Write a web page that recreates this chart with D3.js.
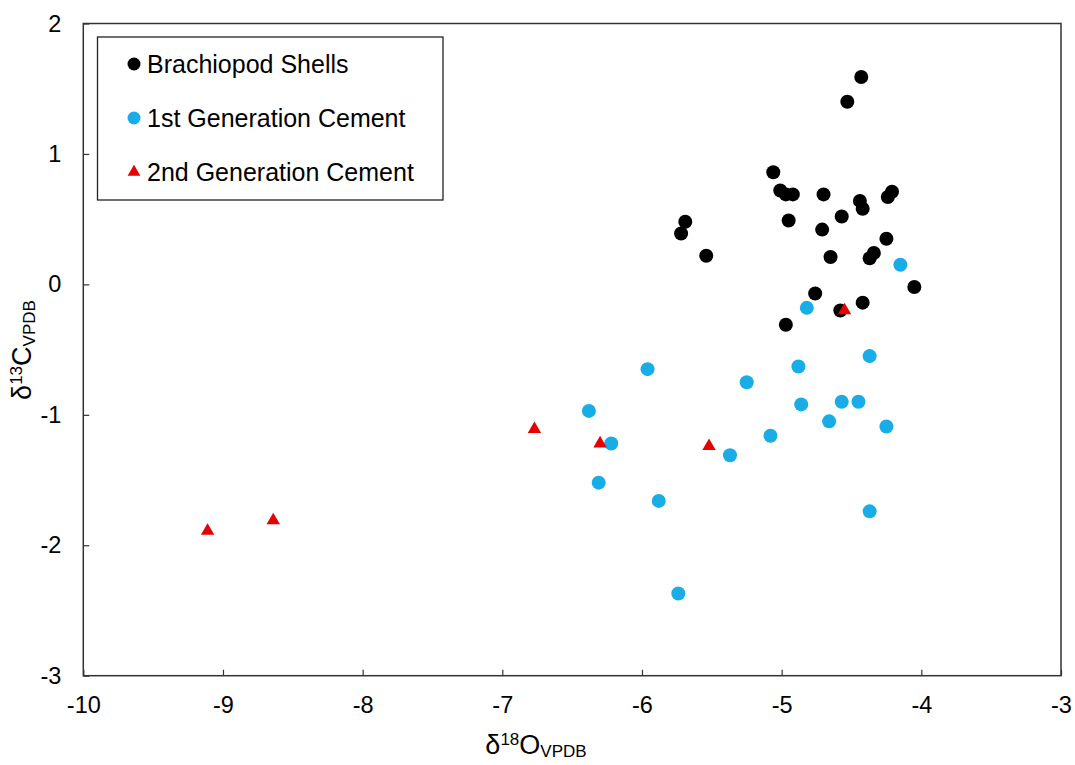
<!DOCTYPE html>
<html>
<head>
<meta charset="utf-8">
<script src="https://cdn.jsdelivr.net/npm/d3@7"></script>
<style>
  body { margin: 0; background: #fff; }
  svg text { font-family: "Liberation Sans", Arial, sans-serif; fill: #000; }
</style>
</head>
<body>
<div id="chart"></div>
<script>
// Brachiopod shells: [d18O, d13C]
const brachiopodShells = [
  [-4.43, 1.59], [-4.53, 1.40], [-5.06, 0.86], [-5.01, 0.72], [-4.97, 0.69],
  [-4.92, 0.69], [-4.70, 0.69], [-4.44, 0.64], [-4.42, 0.58], [-4.21, 0.71],
  [-4.24, 0.67], [-5.69, 0.48], [-5.72, 0.39], [-4.95, 0.49], [-4.57, 0.52],
  [-4.71, 0.42], [-4.25, 0.35], [-5.54, 0.22], [-4.65, 0.21], [-4.37, 0.20],
  [-4.34, 0.24], [-4.05, -0.02], [-4.76, -0.07], [-4.42, -0.14], [-4.58, -0.20],
  [-4.97, -0.31]
];

// 1st generation cement
const firstGenCement = [
  [-4.15, 0.15], [-4.82, -0.18], [-5.96, -0.65], [-4.88, -0.63], [-4.37, -0.55],
  [-5.25, -0.75], [-6.38, -0.97], [-4.86, -0.92], [-4.57, -0.90], [-4.45, -0.90],
  [-4.66, -1.05], [-4.25, -1.09], [-5.08, -1.16], [-6.22, -1.22], [-5.37, -1.31],
  [-6.31, -1.52], [-5.88, -1.66], [-4.37, -1.74], [-5.74, -2.37]
];

// 2nd generation cement
const secondGenCement = [
  [-9.11, -1.89], [-8.64, -1.81], [-6.77, -1.11], [-6.30, -1.22],
  [-5.52, -1.24], [-4.55, -0.20]
];

const xTicks = [-10, -9, -8, -7, -6, -5, -4, -3];
const yTicks = [2, 1, 0, -1, -2, -3];

const seriesNames = ["Brachiopod Shells", "1st Generation Cement", "2nd Generation Cement"];
const seriesColors = ["#000000", "#19ADE8", "#E60000"];

const w = 1075;
const h = 765;
const plotLeft = 83.3, plotRight = 1061, plotTop = 23.5, plotBottom = 675.7;

const svg = d3.select("#chart")
  .append("svg")
  .attr("width", w)
  .attr("height", h);

const xScale = d3.scaleLinear().domain([-10, -3]).range([plotLeft, plotRight]);
const yScale = d3.scaleLinear().domain([-3, 2]).range([plotBottom, plotTop]);

// axes (ticks point inward)
const xAxis = d3.axisBottom(xScale)
  .tickValues(xTicks)
  .tickFormat(d => d)
  .tickSizeInner(-6)
  .tickSizeOuter(0)
  .tickPadding(21);

const yAxis = d3.axisLeft(yScale)
  .tickValues(yTicks)
  .tickFormat(d => d)
  .tickSizeInner(-6)
  .tickSizeOuter(0)
  .tickPadding(22);

const gx = svg.append("g")
  .attr("transform", `translate(0, ${plotBottom})`)
  .call(xAxis);

const gy = svg.append("g")
  .attr("transform", `translate(${plotLeft}, 0)`)
  .call(yAxis);

[gx, gy].forEach(g => {
  g.select(".domain").remove();
  g.selectAll("line").attr("stroke", "#333").attr("stroke-width", 1.2);
  g.selectAll("text").style("font-size", "23.5px").attr("fill", "#000");
});

// plot frame
svg.append("rect")
  .attr("x", plotLeft)
  .attr("y", plotTop)
  .attr("width", plotRight - plotLeft)
  .attr("height", plotBottom - plotTop)
  .attr("fill", "none")
  .attr("stroke", "#333")
  .attr("stroke-width", 1.5);

// points
svg.append("g")
  .selectAll("circle")
  .data(brachiopodShells)
  .enter()
  .append("circle")
  .attr("cx", d => xScale(d[0]))
  .attr("cy", d => yScale(d[1]))
  .attr("r", 7)
  .attr("fill", seriesColors[0]);

svg.append("g")
  .selectAll("circle")
  .data(firstGenCement)
  .enter()
  .append("circle")
  .attr("cx", d => xScale(d[0]))
  .attr("cy", d => yScale(d[1]))
  .attr("r", 7)
  .attr("fill", seriesColors[1]);

const tri = d3.symbol().type(d3.symbolTriangle).size(78);

svg.append("g")
  .selectAll("path")
  .data(secondGenCement)
  .enter()
  .append("path")
  .attr("d", tri)
  .attr("transform", d => `translate(${xScale(d[0])}, ${yScale(d[1])})`)
  .attr("fill", seriesColors[2]);

// legend
svg.append("rect")
  .attr("x", 97.5)
  .attr("y", 37)
  .attr("width", 345.5)
  .attr("height", 163)
  .attr("fill", "#fff")
  .attr("stroke", "#222")
  .attr("stroke-width", 1.3);

const legendRows = [64, 118, 172];
seriesNames.forEach((name, i) => {
  const cy = legendRows[i];
  if (i < 2) {
    svg.append("circle")
      .attr("cx", 134)
      .attr("cy", cy)
      .attr("r", 6.5)
      .attr("fill", seriesColors[i]);
  } else {
    svg.append("path")
      .attr("d", d3.symbol().type(d3.symbolTriangle).size(70))
      .attr("transform", `translate(134, ${cy})`)
      .attr("fill", seriesColors[i]);
  }
  svg.append("text")
    .attr("x", 147)
    .attr("y", cy + 8.5)
    .style("font-size", "25px")
    .text(name);
});

// axis titles
const xt = svg.append("text")
  .attr("x", 536)
  .attr("y", 754)
  .attr("text-anchor", "middle")
  .style("font-size", "27px");
xt.append("tspan").text("δ");
xt.append("tspan").attr("dy", -9).style("font-size", "17px").text("18");
xt.append("tspan").attr("dy", 9).text("O");
xt.append("tspan").attr("dy", 3).style("font-size", "17px").text("VPDB");

const yt = svg.append("text")
  .attr("transform", "translate(31, 350) rotate(-90)")
  .attr("text-anchor", "middle")
  .style("font-size", "27px");
yt.append("tspan").text("δ");
yt.append("tspan").attr("dy", -9).style("font-size", "17px").text("13");
yt.append("tspan").attr("dy", 9).text("C");
yt.append("tspan").attr("dy", 4).style("font-size", "17px").text("VPDB");
</script>
</body>
</html>
